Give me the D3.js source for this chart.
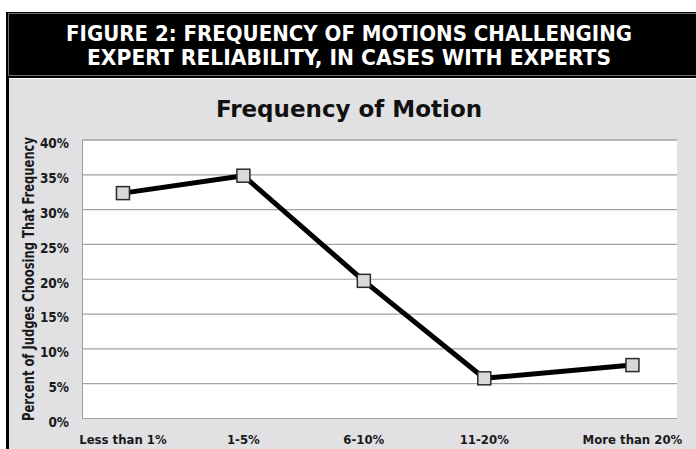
<!DOCTYPE html>
<html>
<head>
<meta charset="utf-8">
<script src="https://cdn.jsdelivr.net/npm/d3@7"></script>
<style>
  body { margin: 0; background: #fff; }
  text { font-family: "DejaVu Sans Condensed", "DejaVu Sans", sans-serif; font-weight: bold; }
</style>
</head>
<body>
<div class="chart"></div>
<script>
// data
var categories = ["Less than 1%", "1-5%", "6-10%", "11-20%", "More than 20%"];
// horizontal slot of each category (last one sits a bit further right in the original)
var slots = [0, 1, 2, 3, 4.23];
var percents = [32.3, 34.8, 19.7, 5.7, 7.6];
var yTicks = [0, 5, 10, 15, 20, 25, 30, 35, 40];
var headerLines = ["FIGURE 2: FREQUENCY OF MOTIONS CHALLENGING",
  "EXPERT RELIABILITY, IN CASES WITH EXPERTS"];
var chartTitle = "Frequency of Motion";
var yTitle = "Percent of Judges Choosing That Frequency";

var svgWidth = 696;
var svgHeight = 449;

var plot = { left: 82, top: 139.5, right: 677, bottom: 418 };

var svg = d3.select(".chart")
  .append("svg")
  .attr("width", svgWidth)
  .attr("height", svgHeight);

// header band
svg.append("rect")
  .attr("x", 6).attr("y", 12)
  .attr("width", 690).attr("height", 66)
  .attr("fill", "#000");
svg.append("rect")
  .attr("x", 8.5).attr("y", 13.5)
  .attr("width", 700).attr("height", 62)
  .attr("fill", "none")
  .attr("stroke", "#6e6e6e")
  .attr("stroke-width", 1);

svg.selectAll(".head")
  .data(headerLines)
  .enter()
  .append("text")
  .attr("class", "head")
  .attr("x", 349)
  .attr("y", (d, i) => 41 + i * 24)
  .attr("text-anchor", "middle")
  .attr("fill", "#fff")
  .style("font-size", "22px")
  .attr("textLength", (d, i) => i === 0 ? 566 : 524)
  .attr("lengthAdjust", "spacingAndGlyphs")
  .text(d => d);

// grey panel
svg.append("rect")
  .attr("x", 9).attr("y", 79)
  .attr("width", 687).attr("height", 370)
  .attr("fill", "#e1e1e3");
svg.append("rect")
  .attr("x", 6).attr("y", 78)
  .attr("width", 3).attr("height", 371)
  .attr("fill", "#000");

// title
svg.append("text")
  .attr("x", 349)
  .attr("y", 117)
  .attr("text-anchor", "middle")
  .attr("fill", "#111")
  .style("font-family", "'DejaVu Sans', sans-serif")
  .style("font-size", "23px")
  .text(chartTitle);

// scales
var xScale = d3.scaleLinear()
  .domain([-0.34, 4.6])
  .range([plot.left, plot.right]);

var yScale = d3.scaleLinear()
  .domain([0, 40])
  .range([plot.bottom, plot.top]);

// plot area
svg.append("rect")
  .attr("x", plot.left).attr("y", plot.top)
  .attr("width", plot.right - plot.left)
  .attr("height", plot.bottom - plot.top)
  .attr("fill", "#fff");

// gridlines + y labels
var leftAxis = d3.axisLeft(yScale)
  .tickValues(yTicks)
  .tickSize(-(plot.right - plot.left))
  .tickPadding(13)
  .tickFormat(d => d + "%");

var yAxis = svg.append("g")
  .attr("transform", `translate(${plot.left}, 0)`)
  .call(leftAxis);

yAxis.select(".domain").attr("stroke", "#9e9e9e");
yAxis.selectAll(".tick line")
  .attr("stroke", "#a2a2a2")
  .attr("stroke-width", 1.2);
yAxis.selectAll(".tick text")
  .attr("fill", "#1a1a1a")
  .attr("dy", "0.62em")
  .style("font-size", "13.5px")
  .style("font-family", "'DejaVu Sans Condensed', 'DejaVu Sans', sans-serif")
  .style("font-weight", "bold");

// x labels
svg.selectAll(".xlab")
  .data(categories)
  .enter()
  .append("text")
  .attr("class", "xlab")
  .attr("x", (d, i) => xScale(slots[i]))
  .attr("y", 444)
  .attr("text-anchor", "middle")
  .attr("fill", "#1a1a1a")
  .style("font-size", "13px")
  .text(d => d);

// y axis title
svg.append("text")
  .attr("transform", "rotate(-90)")
  .attr("x", -279)
  .attr("y", 34)
  .attr("text-anchor", "middle")
  .attr("fill", "#1a1a1a")
  .style("font-size", "15.5px")
  .attr("textLength", 284)
  .attr("lengthAdjust", "spacingAndGlyphs")
  .text(yTitle);

// line
var line = d3.line()
  .x((d, i) => xScale(slots[i]))
  .y(d => yScale(d));

svg.append("path")
  .datum(percents)
  .attr("d", line)
  .attr("fill", "none")
  .attr("stroke", "#000")
  .attr("stroke-width", 5)
  .attr("stroke-linejoin", "round");

// markers
svg.selectAll(".marker")
  .data(percents)
  .enter()
  .append("rect")
  .attr("class", "marker")
  .attr("x", (d, i) => xScale(slots[i]) - 6.5)
  .attr("y", d => yScale(d) - 6.5)
  .attr("width", 13)
  .attr("height", 13)
  .attr("fill", "#d9d9d9")
  .attr("stroke", "#2a2a2a")
  .attr("stroke-width", 1.5);
</script>
</body>
</html>
